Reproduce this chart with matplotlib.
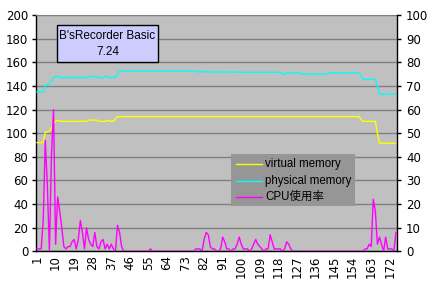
import matplotlib
matplotlib.use("Agg")
import matplotlib.pyplot as plt
import numpy as np
from matplotlib.patches import Rectangle
from matplotlib.lines import Line2D
from matplotlib.transforms import Affine2D

# ---------------- data ----------------
virtual_memory = [
    92, 92, 92, 92, 101, 101, 102, 104, 108, 110,
    111, 110, 110, 110, 110, 110, 110, 110, 110, 110,
    110, 110, 110, 110, 110, 111, 111, 111, 111, 111,
    110, 110, 110, 110, 111, 110, 110, 110, 112, 114,
    114, 114, 114, 114, 114, 114, 114, 114, 114, 114,
    114, 114, 114, 114, 114, 114, 114, 114, 114, 114,
    114, 114, 114, 114, 114, 114, 114, 114, 114, 114,
    114, 114, 114, 114, 114, 114, 114, 114, 114, 114,
    114, 114, 114, 114, 114, 114, 114, 114, 114, 114,
    114, 114, 114, 114, 114, 114, 114, 114, 114, 114,
    114, 114, 114, 114, 114, 114, 114, 114, 114, 114,
    114, 114, 114, 114, 114, 114, 114, 114, 114, 114,
    114, 114, 114, 114, 114, 114, 114, 114, 114, 114,
    114, 114, 114, 114, 114, 114, 114, 114, 114, 114,
    114, 114, 114, 114, 114, 114, 114, 114, 114, 114,
    114, 114, 114, 114, 114, 114, 114, 112, 110, 110,
    110, 110, 110, 110, 110, 100, 91.5, 91.5, 91.5, 91.5,
    91.5, 91.5, 91.5, 91.5, 91.5,
]

physical_memory = [
    135, 135, 135, 135, 141, 141, 142, 144, 147, 148,
    148, 147, 147, 147, 147, 147, 147, 147, 147, 147,
    147, 147, 147, 147, 147, 147, 148, 148, 148, 148,
    147, 147, 147, 148, 148, 147, 147, 147, 147, 150,
    152.5, 152.5, 152.5, 152.5, 152.5, 152.5, 152.5, 152.5, 152.5, 152.5,
    152.5, 152.5, 152.5, 152.5, 152.5, 152.5, 152.5, 152.5, 152.5, 152.5,
    152.5, 152.5, 152.5, 152.5, 152.5, 152.5, 152.5, 152.5, 152.5, 152.5,
    152.5, 152.5, 152.5, 152.5, 152.5, 152.5, 152.5, 152.5, 151.5, 152.5,
    151.5, 152.5, 151.5, 152, 151.5, 152, 151.5, 152, 151.5, 152,
    151.5, 152, 151.5, 151.5, 152, 151.5, 151.5, 151.5, 152, 151.5,
    151.5, 151.5, 151.5, 151.5, 151.5, 151.5, 151.5, 151.5, 151.5, 151.5,
    151.5, 151.5, 151.5, 151.5, 151.5, 151.5, 151.5, 151.5, 151.5, 150,
    150, 151, 151, 151, 151, 151, 151, 151, 150, 150,
    150, 150, 150, 150, 150, 150, 150, 150, 150, 150,
    150, 150, 151, 151, 151, 151, 151, 151, 151, 151,
    151, 151, 151, 151, 151, 151, 151, 148.5, 145.5, 145.5,
    145.5, 145.5, 145.5, 145.5, 145.5, 140, 133, 133, 133, 133,
    133, 133, 133, 133, 133,
]

cpu_usage = [
    1, 1, 1, 13, 47, 28, 0, 41, 60, 3,
    23, 17, 10, 2, 1, 2, 2, 4, 5, 1,
    5, 13, 8, 1, 10, 5, 3, 2, 8, 2,
    1, 4, 5, 1, 3, 1, 3, 1, 0, 11,
    8, 2, 0, 0, 0, 0, 0, 0, 0, 0,
    0, 0, 0, 0, 0, 1, 0, 0, 0, 0,
    0, 0, 0, 0, 0, 0, 0, 0, 0, 0,
    0, 0, 0, 0, 0, 0, 0, 1, 1, 1,
    0, 5, 8, 7, 2, 1, 1, 0, 0, 1,
    6, 4, 1, 1, 0, 1, 1, 3, 6, 3,
    1, 1, 1, 0, 1, 3, 5, 3, 2, 1,
    0, 1, 1, 7, 4, 1, 1, 1, 1, 0,
    1, 4, 3, 1, 0, 0, 0, 0, 0, 0,
    0, 0, 0, 0, 0, 0, 0, 0, 0, 0,
    0, 0, 0, 0, 0, 0, 0, 0, 0, 0,
    0, 0, 0, 0, 0, 0, 0, 0, 0, 1,
    1, 3, 2, 22, 17, 3, 6, 3, 0, 6,
    1, 1, 1, 0, 8,
]

x_tick_labels = [str(v) for v in range(1, 173, 9)]
left_ticks = [0, 20, 40, 60, 80, 100, 120, 140, 160, 180, 200]
right_ticks = [0, 10, 20, 30, 40, 50, 60, 70, 80, 90, 100]
series_names = ["virtual memory", "physical memory", "CPU使用率"]
series_colors = ["#FFFF00", "#00FFFF", "#FF00FF"]
title_lines = ["B'sRecorder Basic", "7.24"]

# ---------------- figure ----------------
W, H = 434, 288
fig = plt.figure(figsize=(W / 100, H / 100), dpi=100)
fig.patch.set_facecolor("white")

L, R, T, B = 36, 397, 15, 251.3
ax = fig.add_axes([L / W, 1 - B / H, (R - L) / W, (B - T) / H])
ax.set_facecolor("#C0C0C0")

n = len(cpu_usage)
xs = np.arange(1, n + 1)

LW = 1.0
ax.plot(xs, virtual_memory, color=series_colors[0], lw=LW, zorder=3)
ax.plot(xs, physical_memory, color=series_colors[1], lw=LW, zorder=3)
ax.set_xlim(0.5, n + 0.5)
ax.set_ylim(0, 200)
ax.set_yticks(left_ticks)
ax.set_yticklabels([str(t) for t in left_ticks])
ax.grid(axis="y", color="#808080", lw=1.0)
ax.set_axisbelow(True)
ax.set_xticks(list(range(1, 173, 9)))
ax.set_xticklabels(x_tick_labels, rotation=90, va="top", ha="center")

ax2 = ax.twinx()
ax2.plot(xs, cpu_usage, color=series_colors[2], lw=LW, zorder=4)
ax2.set_ylim(0, 100)
ax2.set_yticks(right_ticks)
ax2.set_yticklabels([str(t) for t in right_ticks])

for s in ["left", "bottom"]:
    ax.spines[s].set_color("black")
    ax.spines[s].set_linewidth(1.0)
ax.spines["top"].set_color("#808080")
ax.spines["right"].set_visible(False)
for s in ["left", "top", "bottom"]:
    ax2.spines[s].set_visible(False)
ax2.spines["right"].set_color("black")
ax2.spines["right"].set_linewidth(1.0)

ax.tick_params(axis="y", direction="out", length=3, width=1, pad=2.5,
               labelsize=8.5, colors="black")
ax.tick_params(axis="x", direction="out", length=0, pad=3, labelsize=8.5)
ax2.tick_params(axis="y", direction="out", length=3, width=1, pad=3.5,
                labelsize=8.5, colors="black")

# pixel transform (top-left origin)
px = Affine2D().scale(1 / W, -1 / H).translate(0, 1) + fig.transFigure

fam = ["Liberation Sans", "Noto Sans CJK JP", "DejaVu Sans"]

# title box
fig.patches.append(Rectangle((57.3, 25), 100.4, 36.5, transform=px,
                             facecolor="#CCCCFF", edgecolor="black", lw=1.0, zorder=10))
fig.text(107.5, 35.7, title_lines[0], transform=px, ha="center", va="center",
         fontsize=8.5, family=fam, zorder=11)
fig.text(107.5, 51.7, title_lines[1], transform=px, ha="center", va="center",
         fontsize=8.5, family=fam, zorder=11)

# legend box
fig.patches.append(Rectangle((230.7, 154), 124, 51.7, transform=px,
                             facecolor="#969696", edgecolor="none", zorder=10))
for i, (name, col) in enumerate(zip(series_names, series_colors)):
    yy = [164.3, 180.7, 196.7][i]
    fig.lines.append(Line2D([235.7, 262.3], [yy, yy], transform=px, color=col,
                            lw=LW, zorder=11))
    fig.text(265, yy, name, transform=px, ha="left", va="center",
             fontsize=8.3, family=fam, zorder=11)

fig.savefig("out.png", dpi=100)
